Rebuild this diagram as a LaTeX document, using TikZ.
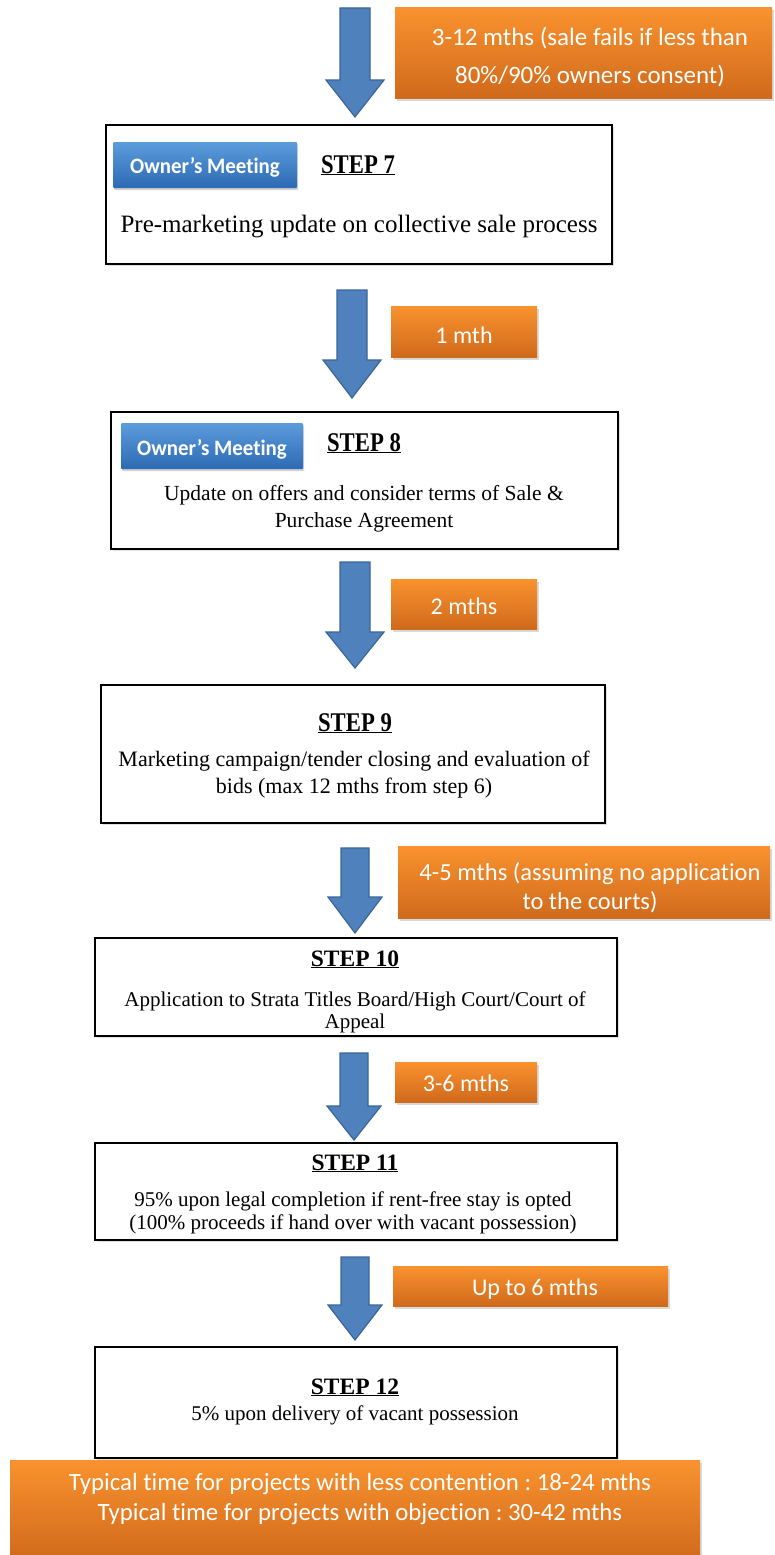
\documentclass[tikz,border=0pt]{standalone}
\usepackage{fontspec}
\setmainfont{Liberation Serif}
\newfontfamily\calib{Carlito}[Ligatures=NoCommon]
\newfontfamily\calibbtn{Carlito}[FakeStretch=0.95,Ligatures=NoCommon]
\newfontfamily\narrowserif{Liberation Serif}[FakeStretch=0.84]
\usetikzlibrary{shadows,calc}

\definecolor{arrowblue}{HTML}{4F81BD}
\definecolor{arrowedge}{HTML}{3B6596}
\definecolor{orangetop}{HTML}{F9922E}
\definecolor{orangebot}{HTML}{D06A1C}
\definecolor{btntop}{HTML}{5C9CDB}
\definecolor{btnbot}{HTML}{2C6AB4}

% block arrow: name, centre x, top y, head y, tip y, shaft half width, head half width
\newcommand\flowarrow[7]{%
  \coordinate (#1-tail) at (#2,#3);
  \coordinate (#1-tip) at (#2,#5);
  \draw[blockarrow] ($(#1-tail)+(-#6,0)$) -- ($(#1-tail)+(#6,0)$) -- (#2+#6,#4) -- (#2+#7,#4)
    -- (#1-tip) -- (#2-#7,#4) -- (#2-#6,#4) -- cycle;}

\tikzset{
  stepbox/.style={draw=black, line width=2.5pt, fill=white, inner sep=0pt,
    drop shadow={shadow xshift=1.5pt, shadow yshift=-1.5pt, opacity=0.25}},
  timebox/.style={top color=orangetop, bottom color=orangebot, draw=none, inner sep=0pt,
    drop shadow={shadow xshift=1.5pt, shadow yshift=-2.5pt, opacity=0.3}},
  meetbtn/.style={top color=btntop, bottom color=btnbot, draw=none, inner sep=0pt,
    rounded corners=1pt, drop shadow={shadow xshift=1pt, shadow yshift=-2pt, opacity=0.35}},
  steptitle/.style={anchor=base, font=\narrowserif\bfseries\fontsize{27}{31}\selectfont},
  smalltitle/.style={anchor=base, font=\bfseries\fontsize{23.5}{27}\selectfont},
  body/.style={anchor=base},
  timetext/.style={anchor=base, text=white, font=\calib\fontsize{24}{28}\selectfont},
  btntext/.style={anchor=base, text=white, font=\calibbtn\bfseries\fontsize{22}{26}\selectfont},
  blockarrow/.style={fill=arrowblue, draw=arrowedge, line width=1.2pt, line join=miter},
}

\begin{document}
\frenchspacing
\begin{tikzpicture}[x=1pt, y=-1pt]
\useasboundingbox (0,0) rectangle (774,1555);

% ---- arrows between the steps
\flowarrow{a1}{355}{8}{80}{117}{15}{29}
\flowarrow{a2}{352}{290}{360}{398}{15}{29}
\flowarrow{a3}{355}{562}{632}{668}{15}{29}
\flowarrow{a4}{355}{848}{897}{933}{14}{27}
\flowarrow{a5}{354}{1053}{1106}{1140}{14}{27}
\flowarrow{a6}{355}{1257}{1305}{1340}{14}{27}

% ---- duration labels
\node[timebox, minimum width=377pt, minimum height=90pt] (o1) at (583.5,53) {};
\node[timetext, font=\calib\fontsize{25}{29}\selectfont] (o1a) at (590,46) {3-12 mths (sale fails if less than};
\node[timetext, font=\calib\fontsize{25}{29}\selectfont] (o1b) at (590,83) {80\%/90\% owners consent)};

\node[timebox, minimum width=146pt, minimum height=51pt] (o2) at (464,331.5) {};
\node[timetext] (o2a) at (464,343) {1 mth};

\node[timebox, minimum width=146pt, minimum height=50pt] (o3) at (464,604) {};
\node[timetext] (o3a) at (464,614) {2 mths};

\node[timebox, minimum width=372pt, minimum height=72pt] (o4) at (584,882) {};
\node[timetext, font=\calib\fontsize{24.5}{28}\selectfont] (o4a) at (590,880) {4-5 mths (assuming no application};
\node[timetext, font=\calib\fontsize{24.5}{28}\selectfont] (o4b) at (590,909) {to the courts)};

\node[timebox, minimum width=142pt, minimum height=40pt] (o5) at (466,1082) {};
\node[timetext] (o5a) at (466,1091) {3-6 mths};

\node[timebox, minimum width=275pt, minimum height=40pt] (o6) at (530.5,1286) {};
\node[timetext] (o6a) at (535,1295) {Up to 6 mths};

% ---- step 7
\node[stepbox, minimum width=506pt, minimum height=139pt] (s7) at (359,194.5) {};
\node[meetbtn, minimum width=184pt, minimum height=46pt] (b7) at (205,165) {};
\node[btntext] (b7t) at (205,173) {Owner’s Meeting};
\node[steptitle] (s7t) at (358,173) {\underline{STEP 7}};
\node[body, font=\fontsize{25}{30}\selectfont] (s7a) at (359,232) {Pre-marketing update on collective sale process};

% ---- step 8
\node[stepbox, minimum width=507pt, minimum height=137pt] (s8) at (364.5,480.5) {};
\node[meetbtn, minimum width=182pt, minimum height=46pt] (b8) at (212,446) {};
\node[btntext] (b8t) at (212,455) {Owner’s Meeting};
\node[steptitle] (s8t) at (364,451) {\underline{STEP 8}};
\node[body, font=\fontsize{21.5}{26}\selectfont] (s8a) at (364,500) {Update on offers and consider terms of Sale \&};
\node[body, font=\fontsize{21.5}{26}\selectfont] (s8b) at (364,527) {Purchase Agreement};

% ---- step 9
\node[stepbox, minimum width=504pt, minimum height=138pt] (s9) at (353,754) {};
\node[steptitle] (s9t) at (355,731) {\underline{STEP 9}};
\node[body, font=\fontsize{22}{26}\selectfont] (s9a) at (354,766) {Marketing campaign/tender closing and evaluation of};
\node[body, font=\fontsize{22}{26}\selectfont] (s9b) at (354,793) {bids (max 12 mths from step 6)};

% ---- step 10
\node[stepbox, minimum width=522pt, minimum height=98pt] (s10) at (356,987) {};
\node[smalltitle] (s10t) at (355,966) {\underline{STEP 10}};
\node[body, font=\fontsize{21}{25}\selectfont] (s10a) at (355,1006) {Application to Strata Titles Board/High Court/Court of};
\node[body, font=\fontsize{21}{25}\selectfont] (s10b) at (355,1028) {Appeal};

% ---- step 11
\node[stepbox, minimum width=522pt, minimum height=97pt] (s11) at (356,1191.5) {};
\node[smalltitle] (s11t) at (355,1170) {\underline{STEP 11}};
\node[body, font=\fontsize{21}{25}\selectfont] (s11a) at (353,1206) {95\% upon legal completion if rent-free stay is opted};
\node[body, font=\fontsize{21}{25}\selectfont] (s11b) at (353,1229) {(100\% proceeds if hand over with vacant possession)};

% ---- step 12
\node[stepbox, minimum width=522pt, minimum height=111pt] (s12) at (356,1402.5) {};
\node[smalltitle] (s12t) at (355,1394) {\underline{STEP 12}};
\node[body, font=\fontsize{21}{25}\selectfont] (s12a) at (355,1420) {5\% upon delivery of vacant possession};

% ---- overall duration
\node[timebox, minimum width=690pt, minimum height=100pt] (tot) at (355,1510) {};
\node[timetext, font=\calib\fontsize{24.8}{29}\selectfont] (tota) at (360,1490) {Typical time for projects with less contention : 18-24 mths};
\node[timetext, font=\calib\fontsize{24.8}{29}\selectfont] (totb) at (360,1520) {Typical time for projects with objection : 30-42 mths};
\end{tikzpicture}
\end{document}
